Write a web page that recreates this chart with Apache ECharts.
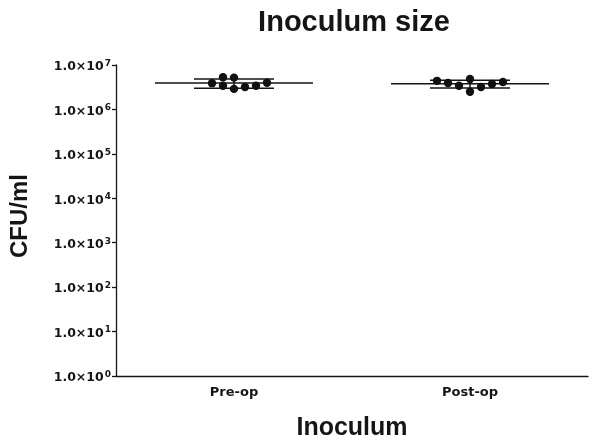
<!DOCTYPE html>
<html>
<head>
<meta charset="utf-8">
<script src="https://cdn.jsdelivr.net/npm/echarts@6/dist/echarts.min.js"></script>
<style>html,body{margin:0;padding:0;background:#fff}#c{width:600px;height:446px}</style>
</head>
<body>
<div id="c"></div>
<script>
// ---- data ----
var categories = ['Pre-op', 'Post-op'];
var preOpValues  = [3.9e6, 5.3e6, 3.4e6, 5.2e6, 2.9e6, 3.2e6, 3.4e6, 4.0e6];
var postOpValues = [4.4e6, 3.95e6, 3.4e6, 4.85e6, 2.5e6, 3.2e6, 3.75e6, 4.15e6];
// scatter (beeswarm) column slot of each point
var preOpSlots  = [-2, -1, -1, 0, 0, 1, 2, 3];
var postOpSlots = [-3, -2, -1, 0, 0, 1, 2, 3];
var yTickExponents = [0, 1, 2, 3, 4, 5, 6, 7];

function stats(a) {
  var m = a.reduce(function (s, v) { return s + v; }, 0) / a.length;
  var v = a.reduce(function (s, x) { return s + (x - m) * (x - m); }, 0) / (a.length - 1);
  return { mean: m, sd: Math.sqrt(v) };
}
var groups = [preOpValues, postOpValues];
var slots = [preOpSlots, postOpSlots];

var points = [];
groups.forEach(function (g, gi) {
  g.forEach(function (v, i) { points.push([gi, v, slots[gi][i]]); });
});
var summary = groups.map(function (g, gi) {
  var s = stats(g);
  return [gi, s.mean, s.mean + s.sd, s.mean - s.sd];
});

var chart = echarts.init(document.getElementById('c'));
var dark = '#151515';
chart.setOption({
  backgroundColor: '#fff',
  animation: false,
  title: {
    text: 'Inoculum size',
    left: 349, textAlign: 'center', top: 3,
    textStyle: { fontFamily: 'Liberation Sans', fontWeight: 'bold', fontSize: 29, color: dark }
  },
  grid: { left: 113, right: 12, top: 65, bottom: 68 },
  xAxis: {
    type: 'category',
    data: categories,
    name: 'Inoculum',
    nameLocation: 'middle',
    nameGap: 40,
    nameTextStyle: { fontFamily: 'Liberation Sans', fontWeight: 'bold', fontSize: 25, color: dark },
    axisLine: { lineStyle: { color: dark, width: 1.3 } },
    axisTick: { alignWithLabel: true, length: 4, lineStyle: { color: dark, width: 1.3 } },
    axisLabel: { margin: 10, fontFamily: 'DejaVu Sans', fontWeight: 'bold', fontSize: 13, color: dark },
    splitLine: { show: false }
  },
  yAxis: {
    type: 'log',
    logBase: 10,
    min: Math.pow(10, yTickExponents[0]),
    max: Math.pow(10, yTickExponents[yTickExponents.length - 1]),
    splitNumber: yTickExponents.length - 1,
    name: 'CFU/ml',
    nameLocation: 'middle',
    nameGap: 84,
    nameRotate: 90,
    nameTextStyle: { fontFamily: 'Liberation Sans', fontWeight: 'bold', fontSize: 24, color: dark, padding: [0, 0, 0, 9] },
    axisLine: { show: true, lineStyle: { color: dark, width: 1.3 } },
    axisTick: { show: true, length: 4, lineStyle: { color: dark, width: 1.3 } },
    splitLine: { show: false },
    minorTick: { show: false },
    axisLabel: {
      margin: 5,
      padding: [4, 0, 0, 0],
      formatter: function (v) {
        var e = Math.round(Math.log10(v));
        return '{b|1.0×10}{s|' + e + '}';
      },
      rich: {
        b: { fontFamily: 'DejaVu Sans', fontWeight: 'bold', fontSize: 12.5, color: dark, lineHeight: 16 },
        s: { fontFamily: 'DejaVu Sans', fontWeight: 'bold', fontSize: 9, color: dark, lineHeight: 16, verticalAlign: 'top', padding: [0, 0, 5, 1] }
      }
    }
  },
  series: [
    {
      type: 'custom',
      name: 'summary',
      data: summary,
      z: 2,
      renderItem: function (params, api) {
        var c = api.coord([api.value(0), api.value(1)]);
        var hi = api.coord([api.value(0), api.value(2)]);
        var lo = api.coord([api.value(0), api.value(3)]);
        var st = { stroke: dark, lineWidth: 1.5 };
        return {
          type: 'group',
          children: [
            { type: 'line', shape: { x1: c[0] - 79, y1: c[1], x2: c[0] + 79, y2: c[1] }, style: st },
            { type: 'line', shape: { x1: c[0] - 40, y1: hi[1], x2: c[0] + 40, y2: hi[1] }, style: st },
            { type: 'line', shape: { x1: c[0] - 40, y1: lo[1], x2: c[0] + 40, y2: lo[1] }, style: st },
            { type: 'line', shape: { x1: c[0], y1: hi[1], x2: c[0], y2: lo[1] }, style: st }
          ]
        };
      }
    },
    {
      type: 'custom',
      name: 'points',
      data: points,
      z: 3,
      renderItem: function (params, api) {
        var p = api.coord([api.value(0), api.value(1)]);
        return {
          type: 'circle',
          shape: { cx: p[0] + api.value(2) * 11, cy: p[1], r: 4.2 },
          style: { fill: '#111' }
        };
      }
    }
  ]
});
</script>
</body>
</html>
